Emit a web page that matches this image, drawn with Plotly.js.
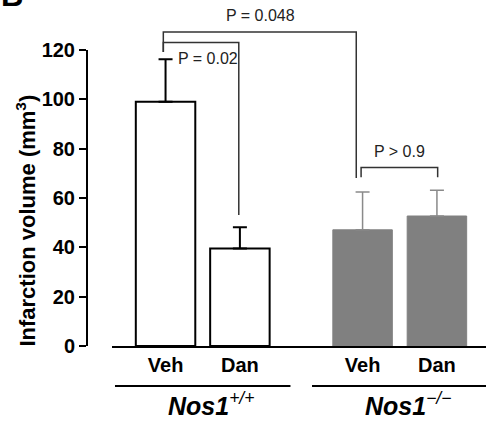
<!DOCTYPE html>
<html><head><meta charset="utf-8">
<script src="https://cdn.plot.ly/plotly-3.0.1.min.js"></script>
<style>html,body{margin:0;padding:0;background:#fff}</style>
</head><body><div id="chart" style="width:486px;height:423px"></div>
<script>
// ---- data ----
const categories = ['Veh', 'Dan', 'Veh', 'Dan'];
const genotypes = ['Nos1<sup>+/+</sup>', 'Nos1<sup>\u2212/\u2212</sup>'];
const wtMeans = [99, 39.5];
const wtErrors = [17.2, 8.6];
const koMeans = [47.1, 52.7];
const koErrors = [15.3, 10.4];
const yTicks = [0, 20, 40, 60, 80, 100, 120];
const pLabels = ['P = 0.048', 'P = 0.02', 'P > 0.9'];

// ---- layout helpers (positions) ----
const xPos = [0, 1, 2.65, 3.65];
const yMax = 120;
const yp = v => v / yMax; // data value -> paper y
// bracket: [barA, barB, top, legA bottom, legB bottom, dxA, dxB]
const brackets = [
  [0, 2, 127.3, 119.2, 68.1, -0.03, -0.085],
  [0, 1, 123.0, 119.2, 53.1, -0.03, -0.015],
  [2, 3, 72.4, 68.4, 68.4, -0.02, 0.01]
];
const LBL = '#222';
const FONT = 'Liberation Sans, Arial, Helvetica, sans-serif';

const traces = [
  {
    type: 'bar', x: xPos.slice(0, 2), y: wtMeans, width: 0.8,
    marker: {color: '#ffffff', line: {color: '#000', width: 2}},
    error_y: {type: 'data', array: wtErrors, arrayminus: [0, 0], symmetric: false,
              color: '#000', thickness: 2, width: 7},
    hoverinfo: 'skip', showlegend: false
  },
  {
    type: 'bar', x: xPos.slice(2, 4), y: koMeans, width: 0.8,
    marker: {color: '#808080', line: {color: '#808080', width: 1}},
    error_y: {type: 'data', array: koErrors, arrayminus: [0, 0], symmetric: false,
              color: '#8a8a8a', thickness: 1.5, width: 7},
    hoverinfo: 'skip', showlegend: false
  }
];

const shapes = [];
brackets.forEach(b => {
  const xa = xPos[b[0]] + b[5], xb = xPos[b[1]] + b[6];
  shapes.push({type: 'path', xref: 'x', yref: 'paper',
    path: `M ${xa},${yp(b[3])} L ${xa},${yp(b[2])} L ${xb},${yp(b[2])} L ${xb},${yp(b[4])}`,
    line: {color: '#333', width: 1.5}});
});
const groupMid = [(xPos[0] + xPos[1]) / 2, (xPos[2] + xPos[3]) / 2];
groupMid.forEach(m => {
  shapes.push({type: 'line', xref: 'x', yref: 'paper', x0: m - 1.18, x1: m + 1.18,
    y0: -0.135, y1: -0.135, line: {color: '#000', width: 2}});
});

const annotations = [
  {text: pLabels[0], xref: 'x', yref: 'paper',
   x: (xPos[0] + xPos[2]) / 2 - 0.05, y: yp(133.8), xanchor: 'center', yanchor: 'middle',
   showarrow: false, font: {family: FONT, size: 16, color: LBL}},
  {text: pLabels[1], xref: 'x', yref: 'paper',
   x: xPos[0] + 0.14, y: yp(116.5), xanchor: 'left', yanchor: 'middle',
   showarrow: false, font: {family: FONT, size: 16, color: LBL}},
  {text: pLabels[2], xref: 'x', yref: 'paper',
   x: (xPos[2] + xPos[3]) / 2, y: yp(78.8), xanchor: 'center', yanchor: 'middle',
   showarrow: false, font: {family: FONT, size: 16, color: LBL}},
  {text: '<b>Infarction volume (mm<sup>3</sup>)</b>', xref: 'paper', yref: 'paper',
   x: -0.152, y: 0.425, xanchor: 'center', yanchor: 'middle', textangle: -90,
   showarrow: false, font: {family: FONT, size: 22, color: '#000'}},
  {text: '<b>B</b>', xref: 'paper', yref: 'paper', x: -0.218, y: 1.12,
   xanchor: 'left', yanchor: 'bottom', showarrow: false, borderpad: 0,
   font: {family: FONT, size: 31, color: '#000'}}
];
genotypes.forEach((g, i) => {
  const parts = g.split('<sup>');
  annotations.push({text: '<b><i>' + parts[0] + '</i></b><i><sup>' + parts[1] + '</i>',
    xref: 'x', yref: 'paper', x: groupMid[i], xshift: 8, y: -0.2535,
    xanchor: 'center', yanchor: 'bottom', showarrow: false, borderpad: 0,
    font: {family: FONT, size: 25, color: '#000'}});
});

const layout = {
  width: 486, height: 423,
  margin: {l: 87, r: 0, t: 50, b: 77, pad: 0},
  paper_bgcolor: '#fff', plot_bgcolor: '#fff',
  font: {family: FONT, color: '#000'},
  bargap: 0,
  xaxis: {
    domain: [0.0627, 1], range: [-0.72, 4.31],
    tickvals: xPos, ticktext: categories, ticks: '',
    tickfont: {family: FONT, size: 20, weight: 'bold', color: '#000'},
    showline: true, linecolor: '#000', linewidth: 2,
    showgrid: false, zeroline: false, fixedrange: true
  },
  yaxis: {
    anchor: 'free', position: 0, range: [0, yMax],
    tickvals: yTicks, ticks: 'outside', ticklen: 7, tickwidth: 2, tickcolor: '#000',
    tickfont: {family: FONT, size: 20, weight: 'bold', color: '#000'},
    showline: true, linecolor: '#000', linewidth: 2,
    showgrid: false, zeroline: false, fixedrange: true
  },
  shapes: shapes,
  annotations: annotations
};

Plotly.newPlot('chart', traces, layout, {displayModeBar: false, staticPlot: true});
</script>
</body></html>
